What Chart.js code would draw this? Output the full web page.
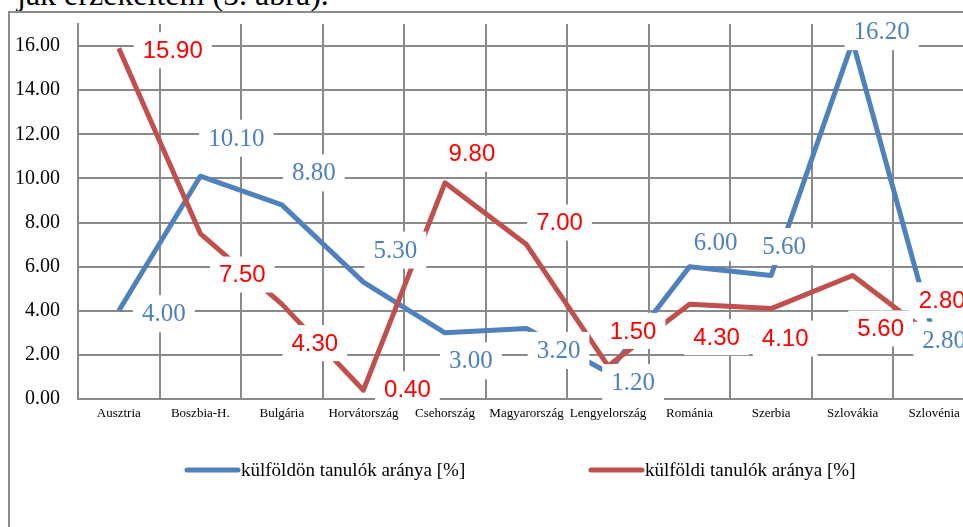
<!DOCTYPE html>
<html>
<head>
<meta charset="utf-8">
<script src="https://cdn.jsdelivr.net/npm/chart.js@4.4.1/dist/chart.umd.min.js"></script>
<style>
  html, body { margin: 0; padding: 0; background: #fff; width: 963px; height: 527px; overflow: hidden; }
  #caption {
    position: absolute; left: 17px; top: -22px;
    font: 32px "Liberation Serif", "Times New Roman", serif; line-height: 32px;
    white-space: nowrap; color: #000;
  }
  #box {
    position: absolute; left: 8px; top: 11px; width: 1030px; height: 530px;
    border-left: 2px solid #8c8c8c; border-top: 2px solid #8c8c8c;
  }
  canvas { display: block; }
</style>
</head>
<body>
<div id="caption">jak érzékeltem (5. ábra).</div>
<div id="box"><canvas id="linechart" width="1030" height="530"></canvas></div>
<script>
const countries = [
    'Ausztria', 'Boszbia-H.', 'Bulgária', 'Horvátország', 'Csehország', 'Magyarország',
    'Lengyelország', 'Románia', 'Szerbia', 'Szlovákia', 'Szlovénia'
];
const studyingAbroad = [4.00, 10.10, 8.80, 5.30, 3.00, 3.20, 1.20, 6.00, 5.60, 16.20, 2.80];
const foreignStudents = [15.90, 7.50, 4.30, 0.40, 9.80, 7.00, 1.50, 4.30, 4.10, 5.60, 2.80];
const yTicks = [0, 2, 4, 6, 8, 10, 12, 14, 16];

const gridGray = '#8a8a8a';

// label placement next to each point (px), as set by hand in the original
const labelOffsets = [
    [[45, 3], [36, -38], [32, -32], [32, -32], [26, 28], [32, 22], [25, 10], [26, -24], [13, -29], [29, -10], [10, 3]],
    [[54, 2], [42, 41], [33, 39], [44, -1], [27, -29], [33, -22], [25, -35], [27, 33], [14, 30], [28, 53], [8, -37]]
];
const labelStyles = [
    { font: '25px "Liberation Serif", "Times New Roman", serif', size: 25, color: '#4F81BD', padX: 9, padY: 6 },
    { font: '24px "Liberation Sans", Arial, sans-serif', size: 24, color: '#FF0000', padX: 9, padY: 6 }
];

const valueLabels = {
    id: 'valueLabels',
    afterDatasetsDraw(chart) {
        const ctx = chart.ctx;
        chart.data.datasets.forEach((ds, di) => {
            const meta = chart.getDatasetMeta(di);
            const st = labelStyles[di];
            ctx.save();
            ctx.font = st.font;
            ctx.textAlign = 'center';
            ctx.textBaseline = 'middle';
            meta.data.forEach((pt, i) => {
                const x = pt.x + labelOffsets[di][i][0];
                const y = pt.y + labelOffsets[di][i][1];
                const text = ds.data[i].toFixed(2);
                const w = ctx.measureText(text).width + 2 * st.padX;
                const h = st.size + 2 * st.padY;
                ctx.fillStyle = '#fff';
                ctx.fillRect(x - w / 2, y - h / 2, w, h);
                ctx.fillStyle = st.color;
                ctx.fillText(text, x, y + 1);
            });
            ctx.restore();
        });
    }
};

// simple legend: thick line sample + text, spread like the original
const lineLegend = {
    id: 'lineLegend',
    afterDraw(chart) {
        const ctx = chart.ctx;
        const starts = [175, 579];
        const y = 457;
        ctx.save();
        ctx.font = '19px "Liberation Serif", "Times New Roman", serif';
        ctx.textBaseline = 'middle';
        chart.data.datasets.forEach((ds, i) => {
            const x = starts[i];
            ctx.strokeStyle = ds.borderColor;
            ctx.lineWidth = 5;
            ctx.lineCap = 'round';
            ctx.beginPath();
            ctx.moveTo(x + 2, y);
            ctx.lineTo(x + 53, y);
            ctx.stroke();
            ctx.fillStyle = '#000';
            ctx.fillText(ds.label, x + 56, y + 1);
        });
        ctx.restore();
    }
};

const noPad = scale => {
    scale.paddingTop = 0;
    scale.paddingBottom = 0;
    scale.paddingLeft = 0;
    scale.paddingRight = 0;
};

const ctx = document.getElementById('linechart').getContext('2d');
const linechart = new Chart(ctx, {
    type: 'line',
    data: {
        labels: countries,
        datasets: [{
            label: 'külföldön tanulók aránya [%]',
            data: studyingAbroad,
            borderColor: '#4F81BD',
            backgroundColor: '#4F81BD',
            borderWidth: 5,
            borderJoinStyle: 'round',
            pointRadius: 0,
            tension: 0,
            order: 1
        }, {
            label: 'külföldi tanulók aránya [%]',
            data: foreignStudents,
            borderColor: '#C0504D',
            backgroundColor: '#C0504D',
            borderWidth: 5,
            borderJoinStyle: 'round',
            pointRadius: 0,
            tension: 0,
            order: 0
        }]
    },
    options: {
        responsive: false,
        animation: false,
        layout: {
            padding: { left: 0, top: 11, right: 65, bottom: 104 }
        },
        plugins: {
            legend: { display: false },
            tooltip: { enabled: false }
        },
        scales: {
            x: {
                offset: true,
                afterFit: scale => { scale.height = 40; noPad(scale); },
                grid: { offset: true, color: gridGray, lineWidth: 2, drawTicks: false },
                border: { color: gridGray, width: 2 },
                ticks: {
                    color: '#000',
                    padding: 7,
                    autoSkip: false,
                    maxRotation: 0,
                    font: { family: '"Liberation Serif", "Times New Roman", serif', size: 13 }
                }
            },
            y: {
                min: 0,
                max: 17,
                afterFit: scale => { scale.width = 68; noPad(scale); },
                afterBuildTicks: scale => { scale.ticks = yTicks.map(v => ({ value: v })); },
                grid: { color: gridGray, lineWidth: 2, drawTicks: false },
                border: { color: gridGray, width: 2 },
                ticks: {
                    color: '#000',
                    padding: 18,
                    font: { family: '"Liberation Serif", "Times New Roman", serif', size: 20 },
                    callback: v => Number(v).toFixed(2)
                }
            }
        }
    },
    plugins: [valueLabels, lineLegend]
});
</script>
</body>
</html>
